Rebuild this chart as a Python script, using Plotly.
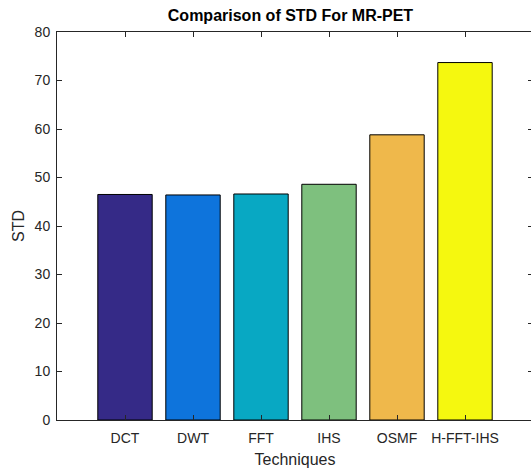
import plotly.graph_objects as go

categories = ["DCT", "DWT", "FFT", "IHS", "OSMF", "H-FFT-IHS"]
std_values = [46.5, 46.4, 46.6, 48.6, 58.8, 73.7]
bar_colors = ["#352a87", "#0e74dc", "#08a8c3", "#7ec07e", "#efb84b", "#f5f80f"]
y_ticks = [0, 10, 20, 30, 40, 50, 60, 70, 80]

xpos = list(range(1, len(categories) + 1))

fig = go.Figure(go.Bar(
    x=xpos, y=std_values, width=0.8,
    marker=dict(color=bar_colors, line=dict(color="black", width=1)),
))

font = "Liberation Sans, Arial, sans-serif"
# figure slightly wider than the window: right box edge is clipped like the reference
fig.update_layout(
    width=533, height=468,
    margin=dict(l=57, r=0, t=32, b=48),
    plot_bgcolor="white", paper_bgcolor="white",
    showlegend=False,
    title=dict(text="<b>Comparison of STD For MR-PET</b>", x=0.545, xanchor="center",
               y=0.968, yanchor="middle", font=dict(family=font, size=16, color="black")),
    font=dict(family=font, size=14, color="#262626"),
)
fig.update_xaxes(
    range=[0, 7], tickvals=xpos, ticktext=categories,
    ticks="inside", ticklen=5, tickcolor="#262626",
    showline=True, linecolor="#262626", linewidth=1, mirror="ticks",
    showgrid=False, zeroline=False, ticklabelstandoff=5,
    tickfont=dict(size=14, color="#262626"),
    title=dict(text="Techniques", font=dict(size=16, color="#262626"), standoff=9),
)
fig.update_yaxes(
    range=[0, 80], tickvals=y_ticks,
    ticks="inside", ticklen=5, tickcolor="#262626",
    showline=True, linecolor="#262626", linewidth=1, mirror="ticks",
    showgrid=False, zeroline=False, ticklabelstandoff=3,
    tickfont=dict(size=14, color="#262626"),
    title=dict(text="STD", font=dict(size=16, color="#262626"), standoff=6),
)

fig.write_html(
    "out.html",
    config={"displayModeBar": False},
    post_script="document.body.style.margin='0';document.body.style.overflow='hidden';",
)
